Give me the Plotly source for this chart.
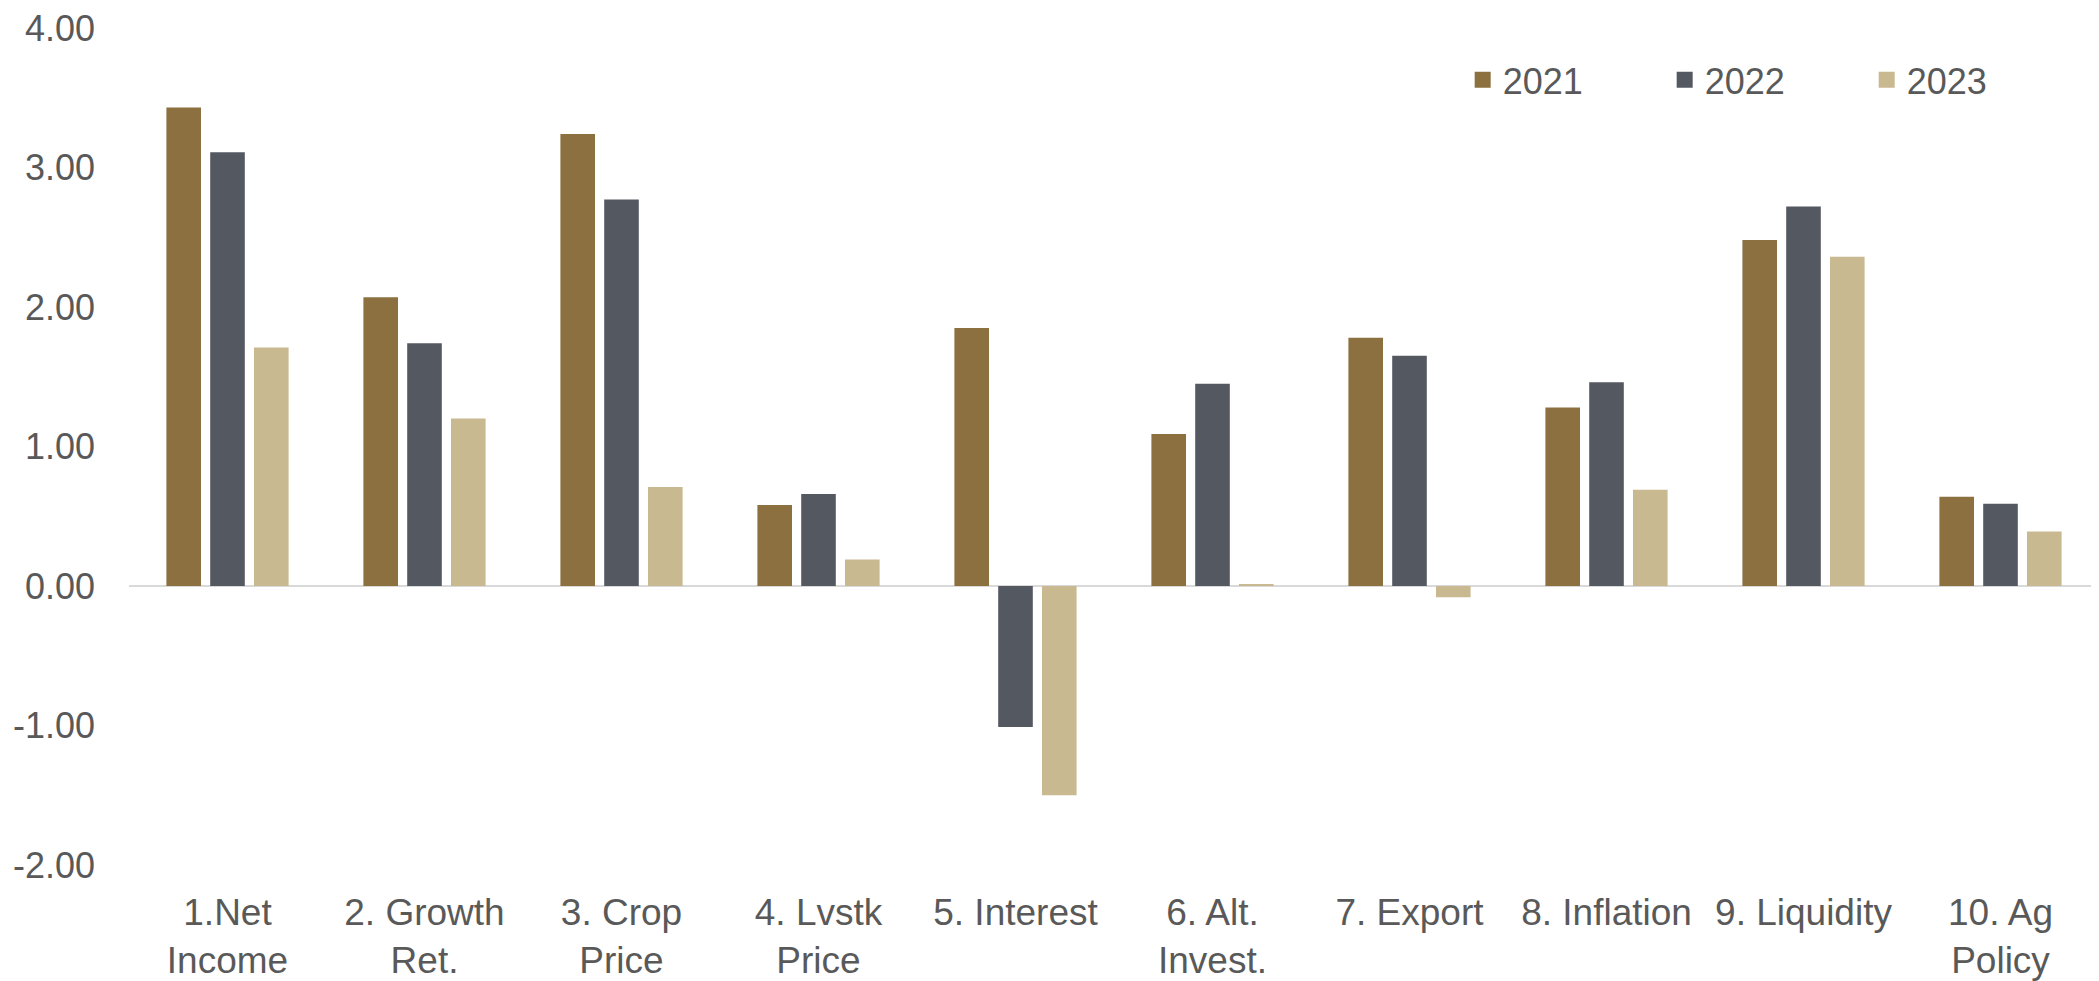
import plotly.graph_objects as go

categories = ["1.Net<br>Income", "2. Growth<br>Ret.", "3. Crop<br>Price", "4. Lvstk<br>Price",
              "5. Interest", "6. Alt.<br>Invest.", "7. Export", "8. Inflation",
              "9. Liquidity", "10. Ag<br>Policy"]
years = ["2021", "2022", "2023"]
v2021 = [3.43, 2.07, 3.24, 0.58, 1.85, 1.09, 1.78, 1.28, 2.48, 0.64]
v2022 = [3.11, 1.74, 2.77, 0.66, -1.01, 1.45, 1.65, 1.46, 2.72, 0.59]
v2023 = [1.71, 1.20, 0.71, 0.19, -1.50, 0.01, -0.08, 0.69, 2.36, 0.39]
y_ticks = [-2, -1, 0, 1, 2, 3, 4]
y_ticklabels = ["-2.00", "-1.00", "0.00", "1.00", "2.00", "3.00", "4.00"]
colors = ["#8D7040", "#545860", "#C9B991"]

FONT = "Liberation Sans, Arial, sans-serif"
TXT = "#595959"

fig = go.Figure()
for name, vals, col in zip(years, [v2021, v2022, v2023], colors):
    fig.add_trace(go.Bar(x=categories, y=vals, name=name, marker_color=col,
                         marker_line_width=0, showlegend=False))
for name, col in zip(years, colors):
    fig.add_trace(go.Scatter(x=[None], y=[None], mode="markers", name=name,
                             marker=dict(symbol="square", size=19, color=col)))

fig.update_layout(
    width=2091, height=973,
    margin=dict(l=121, r=0, t=18, b=111),
    plot_bgcolor="white", paper_bgcolor="white",
    barmode="group", bargap=0.333, bargroupgap=0.21,
    font=dict(family=FONT, size=36, color=TXT),
    legend=dict(orientation="h", x=0.677, y=0.938, xanchor="left", yanchor="middle",
                font=dict(family=FONT, size=36, color=TXT),
                entrywidth=157, entrywidthmode="pixels",
                bgcolor="rgba(0,0,0,0)", itemsizing="trace"),
    xaxis=dict(showgrid=False, showline=False, ticks="", ticklabelstandoff=22,
               tickfont=dict(family=FONT, size=37, color=TXT)),
    yaxis=dict(range=[-2, 4], tickmode="array", tickvals=y_ticks, ticktext=y_ticklabels,
               showgrid=False, zeroline=True, zerolinecolor="#D9D9D9", zerolinewidth=2,
               showline=False, ticks="", ticklabelstandoff=33, ticklabeloverflow="allow",
               tickfont=dict(family=FONT, size=36, color=TXT)),
)

fig.write_html("out.html")
